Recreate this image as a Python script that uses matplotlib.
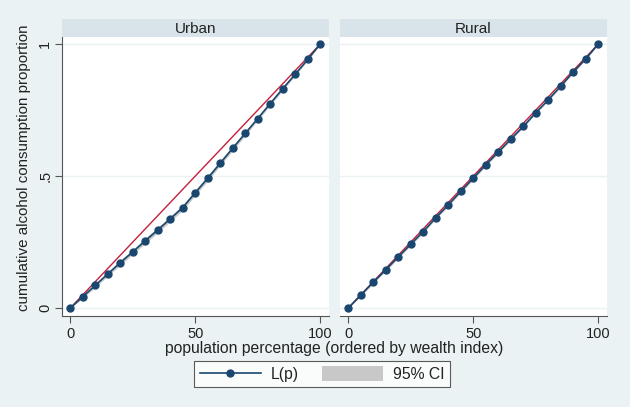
import matplotlib
matplotlib.use("Agg")
import matplotlib.pyplot as plt
from matplotlib.lines import Line2D
from matplotlib.patches import Patch

plt.rcParams['font.family'] = ['Liberation Sans', 'DejaVu Sans']

pop = [0, 5, 10, 15, 20, 25, 30, 35, 40, 45, 50, 55, 60, 65, 70, 75, 80, 85, 90, 95, 100]

urban_lp = [0, .043, .086, .129, .172, .213, .255, .296, .338, .381, .437,
            .492, .549, .606, .662, .718, .775, .831, .886, .942, 1]
urban_lo = [0, .037, .079, .121, .163, .204, .245, .286, .328, .371, .427,
            .482, .540, .597, .654, .711, .768, .825, .881, .938, 1]
urban_hi = [0, .049, .093, .137, .181, .222, .265, .306, .348, .391, .447,
            .502, .558, .615, .670, .725, .782, .837, .891, .946, 1]

rural_lp = [0, .049, .098, .145, .194, .242, .290, .342, .391, .442, .492,
            .543, .591, .640, .688, .740, .789, .841, .894, .944, 1]
rural_lo = [0, .045, .093, .140, .189, .237, .285, .337, .386, .437, .487,
            .538, .586, .635, .684, .736, .785, .837, .891, .942, 1]
rural_hi = [0, .053, .103, .150, .199, .247, .295, .347, .396, .447, .497,
            .548, .596, .645, .692, .744, .793, .845, .897, .946, 1]

panels = [("Urban", urban_lp, urban_lo, urban_hi),
          ("Rural", rural_lp, rural_lo, rural_hi)]

bg = '#eaf2f3'
strip_col = '#d8e4ea'
navy = '#1a476f'
red = '#c3203c'
ci_col = '#c8c8c8'

W, H = 630, 407
fig = plt.figure(figsize=(6.3, 4.07), dpi=100, facecolor=bg)

# panel boxes in pixels: (left, right)
boxes = [(62, 329), (340, 607)]
top_px, bot_px, strip_top = 37, 316, 19

for i, (name, lp, lo, hi) in enumerate(panels):
    l, r = boxes[i]
    ax = fig.add_axes([l / W, (H - bot_px) / H, (r - l) / W, (bot_px - top_px) / H])
    ax.set_facecolor('white')
    for y in [0, .5, 1]:
        ax.axhline(y, color=bg, lw=1, zorder=0)
    ax.fill_between(pop, lo, hi, color=ci_col, lw=0, zorder=1)
    ax.plot([0, 100], [0, 1], color=red, lw=1, zorder=2)
    ax.plot(pop, lp, color=navy, lw=1.2, marker='o', ms=5, zorder=3)
    ax.set_xlim(-3.3, 103.5)
    ax.set_ylim(-0.03, 1.027)
    ax.set_xticks([0, 50, 100])
    ax.set_xticklabels(['0', '50', '100'])
    for s in ['top', 'right']:
        ax.spines[s].set_visible(False)
    ax.spines['bottom'].set_color('#555555')
    ax.spines['left'].set_color('#555555')
    ax.tick_params(axis='x', length=5, color='#555555', labelsize=10.5, pad=3,
                   labelcolor='#222222')
    if i == 0:
        ax.set_yticks([0, .5, 1])
        ax.set_yticklabels(['0', '.5', '1'], rotation=90, va='center')
        ax.tick_params(axis='y', length=5, color='#555555', labelsize=10.5, pad=2,
                       labelcolor='#222222')
    else:
        ax.spines['left'].set_visible(False)
        ax.set_yticks([])

    sax = fig.add_axes([l / W, (H - top_px) / H, (r - l) / W, (top_px - strip_top) / H])
    sax.set_facecolor(strip_col)
    sax.set_xticks([])
    sax.set_yticks([])
    for s in sax.spines.values():
        s.set_visible(False)
    sax.text(0.5, 0.45, name, ha='center', va='center', fontsize=11,
             color='#222222', transform=sax.transAxes)

fig.text((62 + 607) / 2 / W, 1 - 348 / H, 'population percentage (ordered by wealth index)',
         ha='center', va='center', fontsize=11.3, color='#222222')
fig.text(24 / W, 1 - 168 / H, 'cumulative alcohol consumption proportion',
         ha='center', va='center', rotation=90, fontsize=10.9, color='#222222')

handles = [Line2D([], [], color=navy, lw=1.2, marker='o', ms=5),
           Patch(facecolor=ci_col, edgecolor='none')]
leg = fig.legend(handles, ['L(p)', '95% CI'], loc='center',
                 bbox_to_anchor=(322 / W, 1 - 374 / H), ncol=2, frameon=True,
                 fancybox=False, fontsize=11.3, handlelength=3.9, handleheight=1.1,
                 handletextpad=0.6, columnspacing=1.5, borderpad=0.35,
                 borderaxespad=0)
leg.get_frame().set_edgecolor('#333333')
leg.get_frame().set_linewidth(0.8)
for t in leg.get_texts():
    t.set_color('#222222')

fig.savefig('out.png', dpi=100, facecolor=bg)
